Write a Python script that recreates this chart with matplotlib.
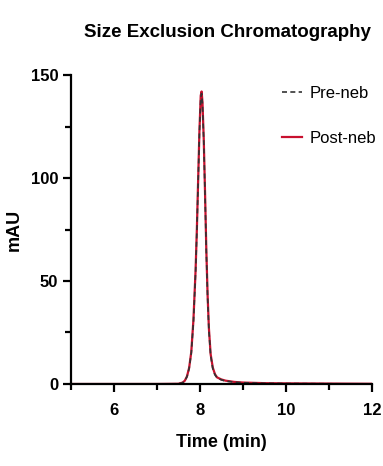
import matplotlib
matplotlib.use("Agg")
import matplotlib.pyplot as plt
from matplotlib.ticker import MultipleLocator

plt.rcParams['font.family'] = ['Liberation Sans Narrow', 'Liberation Sans', 'DejaVu Sans']

# chromatogram points (time in min, absorbance in mAU)
time_min = [5.0, 6.0, 7.0, 7.5, 7.6, 7.65, 7.7, 7.75, 7.8, 7.85, 7.9, 7.93, 7.96,
            7.99, 8.02, 8.04, 8.06, 8.09, 8.12, 8.15, 8.18, 8.21, 8.25, 8.3,
            8.35, 8.4, 8.5, 8.6, 8.8, 9.0, 9.5, 10.0, 11.0, 12.0]
pre_neb = [0.0, 0.0, 0.0, 0.1, 0.6, 1.5, 3.5, 7.5, 15.0, 30.0, 54.0, 74.0, 98.0,
           122.0, 139.0, 141.0, 136.0, 118.0, 92.0, 64.0, 42.0, 26.0, 14.0, 7.5,
           4.5, 3.0, 2.0, 1.4, 0.9, 0.6, 0.3, 0.2, 0.1, 0.0]
post_neb = [0.0, 0.0, 0.0, 0.1, 0.7, 1.6, 3.7, 7.8, 15.5, 31.0, 55.0, 75.0, 99.0,
            123.0, 140.0, 142.0, 137.0, 119.0, 93.0, 65.0, 43.0, 27.0, 14.5, 8.0,
            4.8, 3.2, 2.2, 1.6, 1.0, 0.7, 0.4, 0.3, 0.2, 0.1]

fig = plt.figure(figsize=(3.83, 4.66), dpi=100)
ax = fig.add_axes([0.185, 0.176, 0.786, 0.663])

ax.plot(time_min, post_neb, color='#c8102e', lw=1.6, label='Post-neb', zorder=2)
ax.plot(time_min, pre_neb, color='#333333', lw=1.2, ls=(0, (3, 2)), label='Pre-neb', zorder=3)

ax.set_xlim(5, 12)
ax.set_ylim(0, 150)
ax.xaxis.set_minor_locator(MultipleLocator(1))
ax.yaxis.set_major_locator(MultipleLocator(50))
ax.yaxis.set_minor_locator(MultipleLocator(25))
ax.set_xticks([6, 8, 10, 12])

for s in ['top', 'right']:
    ax.spines[s].set_visible(False)
for s in ['left', 'bottom']:
    ax.spines[s].set_linewidth(1.6)
    ax.spines[s].set_zorder(4)

ax.tick_params(which='major', length=6, width=1.6, labelsize=12, pad=3)
ax.tick_params(axis='x', which='major', pad=8)
ax.tick_params(which='minor', length=4, width=1.6)
for lab in ax.get_xticklabels() + ax.get_yticklabels():
    lab.set_fontweight('bold')

ax.set_xlabel('Time (min)', fontsize=13, fontweight='bold', labelpad=11)
ax.set_ylabel('mAU', fontsize=13, fontweight='bold', labelpad=6)
fig.text(0.595, 0.93, 'Size Exclusion Chromatography', fontsize=13.5,
         fontweight='bold', ha='center', va='center')

h, l = ax.get_legend_handles_labels()
fig.legend(h[::-1], l[::-1], loc='upper left', bbox_to_anchor=(0.735, 0.815),
           frameon=False, fontsize=12, handlelength=1.2, handletextpad=0.5,
           labelspacing=1.8, borderaxespad=0, borderpad=0)

fig.savefig('out.png', dpi=100)
